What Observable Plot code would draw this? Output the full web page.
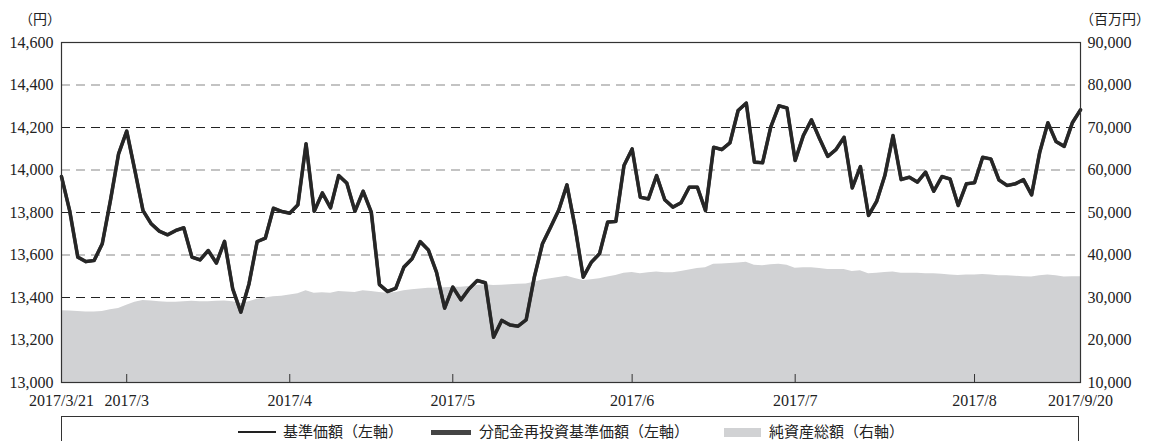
<!DOCTYPE html>
<html>
<head>
<meta charset="utf-8">
<script src="https://cdn.jsdelivr.net/npm/d3@7"></script>
<script src="https://cdn.jsdelivr.net/npm/@observablehq/plot@0.6"></script>
<style>
  body { margin: 0; background: #fff; }
  #wrap { position: relative; width: 1149px; height: 441px; overflow: hidden; font-family: "Noto Sans CJK JP", sans-serif; color: #222; }
  .unit { position: absolute; top: 11px; font-size: 14px; line-height: 1; white-space: nowrap; }
  #legend { position: absolute; left: 61px; top: 416px; width: 1018px; height: 34px; border: 1px solid #333; box-sizing: border-box; }
  .lg { position: absolute; top: 5px; font-size: 15px; line-height: 17px; white-space: nowrap; }
  .sw { position: absolute; }
</style>
</head>
<body>
<div id="wrap">
  <div id="chart"></div>
  <div class="unit" style="right:1088px;">（円）</div>
  <div class="unit" style="left:1080px;">（百万円）</div>
  <div id="legend">
    <div class="sw" style="left:176px; top:14px; width:38px; height:2px; background:#222;"></div>
    <div class="lg" style="left:221px;">基準価額（左軸）</div>
    <div class="sw" style="left:369px; top:13px; width:40px; height:5px; background:#444;"></div>
    <div class="lg" style="left:417px;">分配金再投資基準価額（左軸）</div>
    <div class="sw" style="left:662px; top:11px; width:37px; height:9px; background:#d1d2d4;"></div>
    <div class="lg" style="left:707px;">純資産総額（右軸）</div>
  </div>
</div>
<script>
// Business-day series 2017/3/21 .. 2017/9/20 (index 0..125)
const nav = [
  13969, 13809, 13590, 13569, 13574, 13653, 13856, 14076, 14183, 13998,
  13809, 13747, 13712, 13695, 13715, 13728, 13590, 13577, 13621, 13562,
  13664, 13441, 13331, 13464, 13663, 13679, 13820, 13805, 13797, 13836,
  14123, 13806, 13892, 13822, 13974, 13938, 13806, 13900, 13802, 13461,
  13428, 13443, 13543, 13582, 13663, 13624, 13519, 13350, 13449, 13389,
  13441, 13480, 13469, 13213, 13292, 13271, 13265, 13295, 13496, 13653,
  13731, 13812, 13930, 13731, 13496, 13566, 13606, 13755, 13758, 14021,
  14099, 13872, 13864, 13974, 13860, 13825, 13846, 13919, 13919, 13809,
  14107, 14096, 14128, 14280, 14315, 14037, 14034, 14202, 14302, 14292,
  14045, 14162, 14236, 14147, 14064, 14096, 14154, 13916, 14016, 13786,
  13853, 13974, 14162, 13955, 13966, 13943, 13990, 13900, 13969, 13958,
  13833, 13935, 13940, 14060, 14052, 13953, 13927, 13935, 13955, 13883,
  14084, 14222, 14134, 14111, 14222, 14283
];
const navReinvested = nav.slice();
const aum = [
  26900, 26800, 26700, 26600, 26600, 26700, 27100, 27400, 28200, 28900,
  29300, 29200, 29000, 28900, 28900, 29000, 29100, 29000, 29000, 29100,
  29200, 29000, 28600, 29000, 29600, 29900, 30200, 30300, 30600, 30900,
  31600, 31000, 31100, 31000, 31400, 31300, 31200, 31600, 31400, 31200,
  31000, 31200, 31600, 31800, 32000, 32200, 32200, 32300, 32400, 32400,
  32600, 32800, 33000, 32800, 32900, 33000, 33100, 33200, 33600, 34100,
  34400, 34700, 35000, 34500, 34000, 34200, 34400, 34800, 35200, 35700,
  35900, 35600, 35800, 36000, 35800, 35800, 36100, 36500, 36800, 37000,
  37800, 37900, 38000, 38100, 38300, 37600, 37500, 37700, 37800, 37600,
  36900, 37000, 37000, 36800, 36600, 36600, 36600, 36100, 36300, 35600,
  35700, 35900, 36000, 35700, 35700, 35700, 35600, 35600, 35500, 35300,
  35200, 35300, 35300, 35400, 35300, 35100, 35100, 35000, 34900, 34800,
  35100, 35300, 35100, 34800, 34900, 34900
];
const xLabelIdx = [0, 8, 28, 48, 70, 90, 112, 125];
const xLabels = ["2017/3/21", "2017/3", "2017/4", "2017/5", "2017/6", "2017/7", "2017/8", "2017/9/20"];
const monthTickIdx = [8, 28, 48, 70, 90, 112];
const leftTicks = [13000, 13200, 13400, 13600, 13800, 14000, 14200, 14400, 14600];
const rightTicks = [10000, 20000, 30000, 40000, 50000, 60000, 70000, 80000, 90000];
const gridVals = [13200, 13400, 13600, 13800, 14000, 14200, 14400];

const L0 = 13000, L1 = 14600, R0 = 10000, R1 = 90000;
const toLeft = v => L0 + (v - R0) * (L1 - L0) / (R1 - R0);
const toRight = v => R0 + (v - L0) * (R1 - R0) / (L1 - L0);
const fmt = d3.format(",");
const labelMap = new Map(xLabelIdx.map((d, i) => [d, xLabels[i]]));

const data = nav.map((v, i) => ({ i, nav: v, re: navReinvested[i], aum: aum[i] }));

const chart = Plot.plot({
  width: 1149,
  height: 412,
  marginLeft: 61,
  marginRight: 69,
  marginTop: 42,
  marginBottom: 30,
  style: { fontFamily: "'Liberation Serif', serif", fontSize: "16px", color: "#222", background: "#fff" },
  x: { type: "linear", domain: [0, 125] },
  y: { domain: [L0, L1] },
  marks: [
    Plot.ruleY(gridVals, { y: d => d, stroke: (d, i) => (i % 2 === 0 ? "#888" : "#222"), strokeDasharray: "9,6", strokeWidth: 1.2 }),
    Plot.areaY(data, { x: "i", y1: L0, y2: d => toLeft(d.aum), fill: "#d1d2d4" }),
    Plot.lineY(data, { x: "i", y: "re", stroke: "#444", strokeWidth: 3.6 }),
    Plot.lineY(data, { x: "i", y: "nav", stroke: "#262626", strokeWidth: 3.2 }),
    Plot.tickX(monthTickIdx, { x: d => d, stroke: "#333", insetTop: 332 }),
    Plot.frame({ stroke: "#333", strokeWidth: 1.2 }),
    Plot.axisY(leftTicks, { anchor: "left", tickSize: 0, tickPadding: 8, tickFormat: fmt, label: null }),
    Plot.axisY(rightTicks.map(toLeft), { anchor: "right", tickSize: 0, tickPadding: 7, tickFormat: d => fmt(Math.round(toRight(d))), label: null }),
    Plot.axisX(xLabelIdx, { anchor: "bottom", tickSize: 0, tickPadding: 12, tickFormat: d => labelMap.get(d), label: null })
  ]
});
document.getElementById("chart").appendChild(chart);
</script>
</body>
</html>
